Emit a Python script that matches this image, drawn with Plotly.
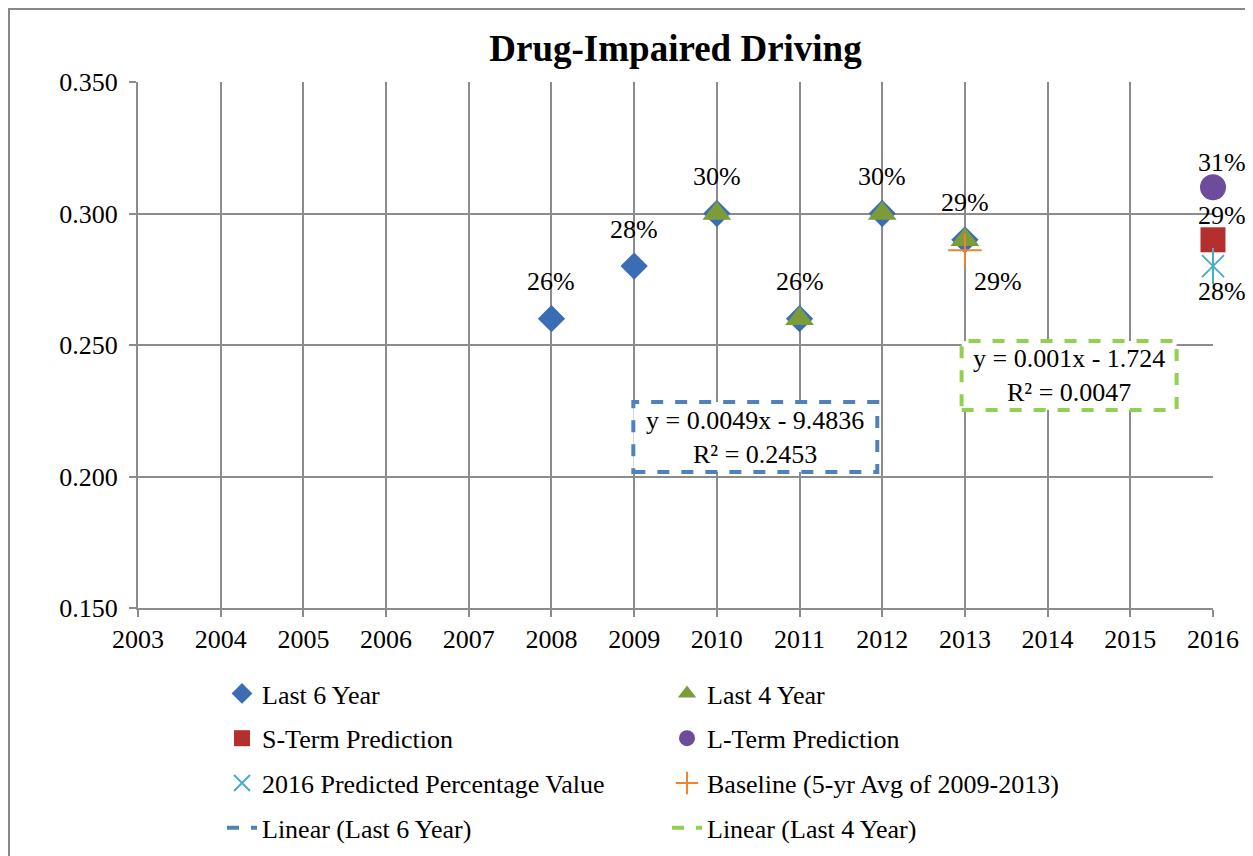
import plotly.graph_objects as go

# ---- data ----
years6 = [2008, 2009, 2010, 2011, 2012, 2013]
last6 = [0.26, 0.28, 0.30, 0.26, 0.30, 0.29]
labels6 = ["26%", "28%", "30%", "26%", "30%", "29%"]
years4 = [2010, 2011, 2012, 2013]
last4 = [0.30, 0.26, 0.30, 0.29]
pred_year = [2016]
s_term = [0.29]
l_term = [0.31]
predicted = [0.28]
baseline_year = [2013]
baseline = [0.286]
s_label = "29%"
l_label = "31%"
pred_label = "28%"
base_label = "29%"
x_ticks = list(range(2003, 2017))
y_ticks = [0.150, 0.200, 0.250, 0.300, 0.350]
eq6 = "y = 0.0049x - 9.4836<br>R² = 0.2453"
eq4 = "y = 0.001x - 1.724<br>R² = 0.0047"

FONT = "Liberation Serif, Times New Roman, serif"
FS = 26
TXT = dict(family=FONT, size=FS, color="black")

fig = go.Figure()

fig.add_trace(go.Scatter(
    x=years6, y=last6, mode="markers", name="Last 6 Year",
    marker=dict(symbol="diamond", size=21, color="#3A6DB3"),
    legend="legend", legendgroup="a", cliponaxis=False))
fig.add_trace(go.Scatter(
    x=years4, y=last4, mode="markers", name="Last 4 Year",
    marker=dict(symbol="triangle-up", size=25, color="#7C9C3A"),
    legend="legend2", legendgroup="b", cliponaxis=False))
fig.add_trace(go.Scatter(
    x=pred_year, y=s_term, mode="markers", name="S-Term Prediction",
    marker=dict(symbol="square", size=25, color="#B3302F"),
    legend="legend", legendgroup="c", cliponaxis=False))
fig.add_trace(go.Scatter(
    x=pred_year, y=l_term, mode="markers", name="L-Term Prediction",
    marker=dict(symbol="circle", size=26, color="#6E4C9C"),
    legend="legend2", legendgroup="d", cliponaxis=False))
fig.add_trace(go.Scatter(
    x=pred_year, y=predicted, mode="markers", name="2016 Predicted Percentage Value",
    marker=dict(symbol="x-thin-open", size=22, color="#4BACC6", line=dict(width=2, color="#4BACC6")),
    legend="legend", legendgroup="e", cliponaxis=False))
fig.add_trace(go.Scatter(
    x=pred_year, y=predicted, mode="markers", showlegend=False,
    marker=dict(symbol="line-ns-open", size=26, color="#4BACC6", line=dict(width=2, color="#4BACC6")),
    legendgroup="e", cliponaxis=False))
fig.add_trace(go.Scatter(
    x=baseline_year, y=baseline, mode="markers", name="Baseline (5-yr Avg of 2009-2013)",
    marker=dict(symbol="cross-thin-open", size=24, color="#F0842E", line=dict(width=2, color="#F0842E")),
    legend="legend2", legendgroup="f", cliponaxis=False))
fig.add_trace(go.Scatter(
    x=[None], y=[None], mode="lines", name="Linear (Last 6 Year)",
    line=dict(color="#4F81BD", width=4, dash="dash"),
    legend="legend", legendgroup="g"))
fig.add_trace(go.Scatter(
    x=[None], y=[None], mode="lines", name="Linear (Last 4 Year)",
    line=dict(color="#92D050", width=4, dash="dash"),
    legend="legend2", legendgroup="h"))

# data labels
for xv, yv, t in zip(years6, last6, labels6):
    fig.add_annotation(x=xv, y=yv, text=t, showarrow=False, yshift=37, font=TXT)
fig.add_annotation(x=pred_year[0], y=l_term[0], text=l_label, showarrow=False, xshift=9, yshift=25, font=TXT)
fig.add_annotation(x=pred_year[0], y=s_term[0], text=s_label, showarrow=False, xshift=9, yshift=24, font=TXT)
fig.add_annotation(x=pred_year[0], y=predicted[0], text=pred_label, showarrow=False, xshift=9, yshift=-25, font=TXT)
fig.add_annotation(x=baseline_year[0], y=baseline[0], text=base_label, showarrow=False, xshift=33, yshift=-31, font=TXT)

# equation boxes
fig.add_shape(type="rect", xref="x", yref="y", x0=2008.99, x1=2011.94, y0=0.2017, y1=0.2283,
              line=dict(color="#4F81BD", width=4, dash="dash"), fillcolor="white", layer="above")
fig.add_shape(type="rect", xref="x", yref="y", x0=2012.96, x1=2015.56, y0=0.2253, y1=0.2515,
              line=dict(color="#92D050", width=4, dash="dash"), fillcolor="white", layer="above")
fig.add_annotation(x=(2008.99 + 2011.94) / 2, y=(0.2017 + 0.2283) / 2, xref="x", yref="y",
                   text=eq6, showarrow=False, align="center", font=TXT)
fig.add_annotation(x=(2012.96 + 2015.56) / 2, y=(0.2253 + 0.2515) / 2, xref="x", yref="y",
                   text=eq4, showarrow=False, align="center", font=TXT)

# outer frame
fig.add_shape(type="rect", xref="paper", yref="paper", x0=-129 / 1075, x1=1.1, y0=-0.6, y1=1 + 73 / 526,
              line=dict(color="#888888", width=2), layer="below")

legend_common = dict(font=TXT, orientation="v",
                     tracegroupgap=8, bgcolor="rgba(0,0,0,0)", yanchor="top", xanchor="left",
                     itemsizing="trace")

fig.update_layout(
    width=1245, height=848,
    margin=dict(l=130, r=40, t=74, b=248, autoexpand=False),
    paper_bgcolor="white", plot_bgcolor="white",
    font=dict(family=FONT, size=FS, color="black"),
    title=dict(text="<b>Drug-Impaired Driving</b>", x=0.5, xref="paper", xanchor="center",
               y=1 - 40 / 848, yanchor="middle",
               font=dict(family=FONT, size=37, color="black")),
    xaxis=dict(range=[2003, 2016], tickmode="array", tickvals=x_ticks,
               ticktext=[str(v) for v in x_ticks],
               showgrid=True, gridcolor="#8C8C8C", gridwidth=2,
               showline=True, linecolor="#8C8C8C", linewidth=2,
               ticks="outside", ticklen=7, tickcolor="#8C8C8C", tickwidth=2,
               tickfont=TXT, zeroline=False),
    yaxis=dict(range=[0.150, 0.350], tickmode="array", tickvals=y_ticks,
               ticktext=[f"{v:.3f}" for v in y_ticks],
               showgrid=True, gridcolor="#8C8C8C", gridwidth=2,
               showline=True, linecolor="#8C8C8C", linewidth=2,
               ticks="outside", ticklen=7, tickcolor="#8C8C8C", tickwidth=2,
               ticklabelstandoff=6,
               tickfont=TXT, zeroline=False),
    legend=dict(x=(222 - 138) / 1075, y=(608 - 670) / 526, **legend_common),
    legend2=dict(x=(667 - 138) / 1075, y=(608 - 670) / 526, **legend_common),
)

fig.write_html("out.html")
